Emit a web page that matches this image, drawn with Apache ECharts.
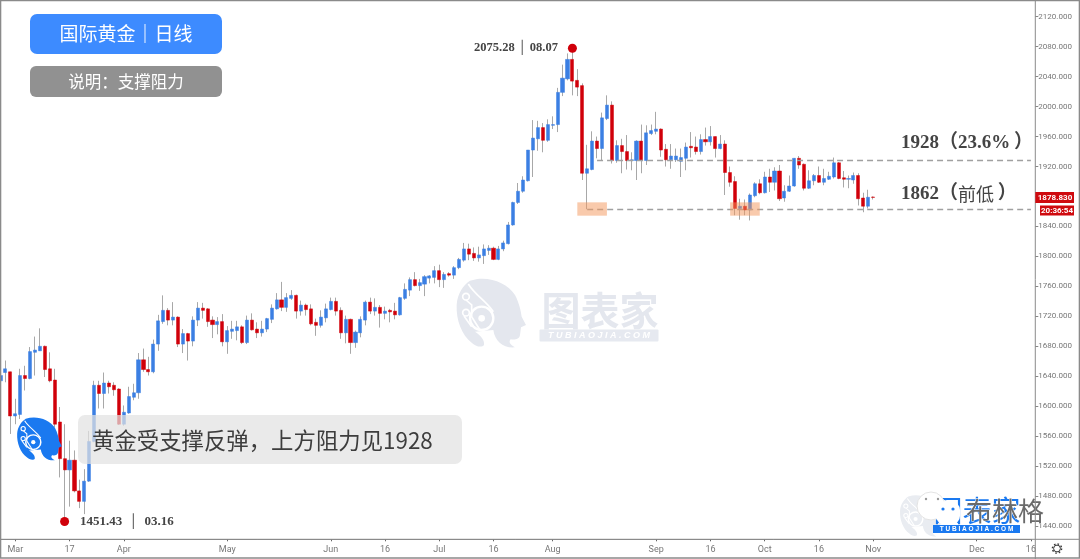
<!DOCTYPE html>
<html><head><meta charset="utf-8">
<style>html,body{margin:0;padding:0;background:#fff}#c{width:1080px;height:559px}</style>
<script src="https://cdn.jsdelivr.net/npm/echarts@6/dist/echarts.min.js"></script>
</head><body><div id="c"></div>
<script>
const opens=[1634,1645,1646,1587,1589,1641,1637,1672,1674,1680,
1650,1635,1579,1530,1515,1528,1487,1473,1500,1553,
1628,1617,1631,1628,1623,1576,1591,1612,1618,1662,
1649,1646,1683,1713,1728,1715,1719,1683,1697,1687,
1715,1731,1730,1715,1709,1713,1686,1700,1701,1706,
1685,1715,1703,1698,1703,1716,1730,1742,1732,1744,
1748,1727,1735,1730,1712,1708,1718,1729,1740,1728,
1698,1716,1685,1698,1715,1739,1727,1732,1724,1728,
1727,1722,1744,1755,1769,1761,1763,1771,1772,1781,
1769,1777,1775,1785,1795,1810,1804,1798,1801,1808,
1811,1796,1810,1817,1842,1872,1887,1901,1942,1957,
1972,1955,1975,1976,2019,2037,2063,2035,2028,1911,
1916,1954,1944,1984,2002,1928,1948,1940,1928,1928,
1954,1928,1964,1967,1970,1943,1929,1929,1927,1931,
1947,1946,1940,1956,1953,1960,1944,1950,1912,1900,
1864,1867,1862,1881,1897,1885,1906,1899,1914,1878,
1887,1894,1931,1923,1891,1901,1908,1899,1903,1906,
1925,1905,1903,1902,1908,1878,1867,1879.3];
const closes=[1641,1650,1587,1590,1641,1637,1673,1675,1680,1649,
1634,1576,1530,1515,1528,1487,1473,1500,1553,1628,
1617,1631,1626,1622,1576,1592,1613,1618,1662,1649,
1646,1683,1714,1728,1715,1719,1683,1697,1687,1715,
1731,1728,1713,1709,1713,1686,1701,1703,1706,1685,
1715,1702,1698,1703,1717,1731,1742,1732,1745,1748,
1727,1735,1729,1710,1708,1719,1730,1740,1727,1698,
1716,1685,1699,1716,1739,1727,1732,1724,1727,1726,
1722,1745,1756,1769,1761,1765,1773,1774,1781,1769,
1776,1775,1785,1796,1810,1803,1798,1802,1810,1811,
1796,1810,1818,1842,1872,1887,1902,1942,1958,1972,
1955,1976,1976,2019,2038,2063,2034,2026,1911,1917,
1954,1944,1985,2002,1928,1948,1940,1928,1929,1954,
1928,1965,1968,1970,1942,1929,1934,1934,1932,1946,
1945,1940,1956,1953,1960,1944,1950,1912,1899,1864,
1867,1862,1882,1897,1885,1906,1899,1914,1877,1887,
1894,1931,1922,1891,1901,1908,1899,1904,1907,1925,
1904,1903,1904,1908,1877,1867,1879,1878.83];
const lows=[1632,1632,1563,1576,1583,1621,1636,1641,1674,1639,
1632,1572,1505,1451.43,1466,1485,1464,1456,1499,1552,
1597,1597,1617,1614,1575,1574,1590,1608,1610,1646,
1641,1644,1674,1710,1708,1708,1679,1671,1661,1680,
1707,1717,1706,1691,1696,1680,1670,1690,1688,1683,
1683,1701,1691,1693,1699,1711,1729,1727,1726,1742,
1717,1721,1721,1708,1694,1705,1712,1728,1721,1690,
1684,1670,1678,1692,1708,1723,1721,1705,1716,1712,
1716,1721,1742,1747,1760,1754,1747,1764,1764,1759,
1758,1773,1770,1783,1793,1795,1794,1793,1790,1802,
1795,1795,1807,1816,1841,1870,1885,1900,1906,1941,
1939,1953,1970,1966,2014,2035,2015,2014,1902,1863,
1915,1931,1928,1982,1924,1925,1911,1916,1915,1902,
1911,1922,1962,1963,1933,1920,1917,1926,1906,1915,
1932,1936,1936,1948,1948,1932,1943,1882,1893,1855,
1849,1855,1848,1879,1883,1884,1886,1888,1874,1873,
1886,1893,1917,1888,1890,1895,1898,1895,1902,1904,
1903,1892,1891,1897,1868,1859,1864,1876];
const highs=[1645,1661,1646,1610,1650,1654,1679,1693,1704,1681,
1672,1650,1599,1576,1554,1541,1502,1516,1567,1634,
1634,1645,1634,1632,1624,1601,1626,1630,1671,1677,
1666,1689,1722,1748,1731,1739,1720,1703,1698,1720,
1739,1738,1731,1720,1719,1723,1707,1714,1714,1708,
1721,1724,1712,1714,1718,1736,1751,1766,1751,1755,
1749,1741,1737,1736,1717,1728,1737,1745,1745,1732,
1721,1717,1701,1720,1741,1745,1744,1735,1733,1730,
1738,1746,1764,1772,1779,1770,1775,1775,1787,1789,
1779,1779,1787,1798,1818,1817,1812,1813,1816,1815,
1813,1814,1821,1846,1873,1898,1907,1942,1982,1981,
1978,1983,1987,2025,2056,2071,2075.28,2050,2031,1949,
1967,1960,1992,2015,2007,1955,1957,1962,1939,1955,
1976,1975,1976,1993,1971,1950,1950,1944,1944,1952,
1966,1960,1963,1972,1974,1960,1962,1955,1920,1907,
1877,1876,1884,1899,1903,1913,1917,1919,1922,1895,
1908,1931,1934,1924,1915,1910,1920,1917,1913,1932,
1926,1914,1908,1912,1911,1885,1889,1880];
const tickDates=['2020-03-02','2020-03-17','2020-04-01','2020-05-01','2020-06-01','2020-06-16','2020-07-01','2020-07-16','2020-08-03','2020-09-01','2020-09-16','2020-10-01','2020-10-16','2020-11-02','2020-12-01','2020-12-16'];
const tickLabels=['Mar','17','Apr','May','Jun','16','Jul','16','Aug','Sep','16','Oct','16','Nov','Dec','16'];
const resistance=1928, support=1863;
const peakDate='2020-08-07', peakValue=2075.28, troughDate='2020-03-16', troughValue=1451.43;
const priceTicks={min:1440,max:2120,step:40};

// trading calendar: weekdays from 26 Feb 2020, Good Friday closed
const categories=[];
for(let d=Date.UTC(2020,1,26);categories.length<210;d+=864e5){
  const dt=new Date(d),s=dt.toISOString().slice(0,10),w=dt.getUTCDay();
  if(w!==0&&w!==6&&s!=='2020-04-10')categories.push(s);
}
const idx=s=>categories.indexOf(s);
const isTick=i=>tickDates.includes(categories[i]);

const wicks=opens.map((o,i)=>[o,closes[i],lows[i],highs[i]]);
const bodies=opens.map((o,i)=>[o,closes[i],Math.min(o,closes[i]),Math.max(o,closes[i])]);

const SERIF='"Liberation Serif","Noto Sans CJK SC",serif', CJK='"Noto Sans CJK SC",sans-serif';
echarts.graphic.registerShape('logoHead',echarts.graphic.extendPath('M50,105 C52,70 70,45 90,32 C140,15 200,35 225,75 C238,100 243,125 245,140 L258,165 L243,172 L240,195 C238,208 225,210 212,208 C205,215 210,225 225,232 C190,235 165,215 160,180 L105,185 C120,195 135,210 132,225 C125,235 105,228 95,218 C65,195 48,150 50,105 Z',{}));
echarts.graphic.registerShape('logoTrace',echarts.graphic.extendPath('M85,42 C105,75 135,90 160,125 M78,90 L95,105 L95,140 L120,180 M72,138 L95,170',{}));
function head(x,y,sx,sy,color,z,line){
  return {type:'group',x:x,y:y,scaleX:sx,scaleY:sy,z:z,children:[
    {type:'logoHead',shape:{},style:{fill:color},z:z},
    {type:'circle',shape:{cx:125,cy:145,r:35},style:{fill:color,stroke:line,lineWidth:7},z:z},
    {type:'circle',shape:{cx:125,cy:145,r:10},style:{fill:line},z:z},
    {type:'logoTrace',shape:{},style:{fill:'none',stroke:line,lineWidth:5},z:z},
    {type:'circle',shape:{cx:78,cy:80,r:10},style:{fill:color,stroke:line,lineWidth:5},z:z},
    {type:'circle',shape:{cx:78,cy:128,r:10},style:{fill:color,stroke:line,lineWidth:5},z:z}
  ]};
}
const levelRich={a:{font:'bold 19px '+SERIF,fill:'#444'},b:{font:'18px '+CJK,fill:'#444'}};
const graphics=[
  // frame and axis rules
  {type:'line',shape:{x1:0,y1:539.3,x2:1080,y2:539.3},style:{stroke:'#8a8a8a',lineWidth:1},z:20},
  {type:'line',shape:{x1:1035.3,y1:0,x2:1035.3,y2:559},style:{stroke:'#8a8a8a',lineWidth:1},z:20},
  {type:'rect',shape:{x:.5,y:.5,width:1079,height:557.5},style:{fill:'none',stroke:'#8a8a8a',lineWidth:1.6},z:20},
  // centre watermark
  head(440,270,1/3,1/3,'#e4e7ee',0,'#fff'),
  {type:'text',x:600,y:310,style:{text:'图表家',fill:'#e4e7ee',font:'bold 39px '+CJK,textAlign:'center',textVerticalAlign:'middle'},z:0},
  {type:'rect',shape:{x:539.5,y:329.5,width:119,height:12,r:1},style:{fill:'#e6e9f0'},z:0},
  {type:'text',x:599,y:335.7,style:{text:'T U B I A O J I A . C O M',fill:'#fff',font:'italic bold 9px "Liberation Sans",sans-serif',textAlign:'center',textVerticalAlign:'middle'},z:0},
  // header boxes
  {type:'rect',shape:{x:30,y:14,width:192,height:40,r:7},style:{fill:'#3d8bff'},z:30},
  {type:'text',x:126,y:34,style:{text:'国际黄金｜日线',fill:'#fff',font:'19px '+CJK,textAlign:'center',textVerticalAlign:'middle'},z:31},
  {type:'rect',shape:{x:30,y:66,width:192,height:31,r:6},style:{fill:'#919191'},z:30},
  {type:'text',x:126,y:82,style:{text:'说明：支撑阻力',fill:'#fff',font:'16.5px '+CJK,textAlign:'center',textVerticalAlign:'middle'},z:31},
  // comment banner
  {type:'rect',shape:{x:78,y:415,width:384,height:49,r:7},style:{fill:'rgba(226,226,226,0.72)'},z:30},
  {type:'text',x:92,y:440,style:{text:'黄金受支撑反弹，上方阻力见1928',fill:'#3d3d3d',font:'22.4px '+CJK,textVerticalAlign:'middle'},z:31},
  head(6.4,412,.215,.208,'#1a79f0',32,'#fff'),
  // level annotations
  {type:'text',x:901,y:143,style:{text:'{a|1928（23.6%\u2009）}',rich:levelRich,fill:'#444',textVerticalAlign:'middle'},z:31},
  {type:'text',x:901,y:194,style:{text:'{a|1862（}{b|前低}{a|\u2009）}',rich:levelRich,fill:'#444',textVerticalAlign:'middle'},z:31},
  // price tags
  {type:'rect',shape:{x:1035.3,y:192,width:38.7,height:11},style:{fill:'#cf0a0f'},z:30},
  {type:'text',x:1055,y:197.7,style:{text:'1878.830',fill:'#fff',font:'bold 8px Roboto,sans-serif',textAlign:'center',textVerticalAlign:'middle'},z:31},
  {type:'rect',shape:{x:1040,y:205.5,width:34,height:10},style:{fill:'#cf0a0f'},z:30},
  {type:'text',x:1057,y:210.7,style:{text:'20:36:54',fill:'#fff',font:'bold 8px Roboto,sans-serif',textAlign:'center',textVerticalAlign:'middle'},z:31},
  // gear
  {type:'circle',shape:{cx:1057,cy:548.5,r:3.4},style:{fill:'none',stroke:'#333',lineWidth:1},z:31},
  {type:'circle',shape:{cx:1057,cy:548.5,r:4.6},style:{fill:'none',stroke:'#333',lineWidth:1.4,lineDash:[1.6,2]},z:31},
  // lower right watermark
  head(889.7,490,.207,.2,'#e9ecf1',5,'#fff'),
  {type:'text',x:977,y:511,style:{text:'图表家',fill:'#1a79f0',font:'29px '+CJK,textAlign:'center',textVerticalAlign:'middle'},z:6},
  {type:'rect',shape:{x:933,y:525,width:87,height:8},style:{fill:'#1a79f0'},z:6},
  {type:'text',x:976.5,y:529.2,style:{text:'T U B I A O J I A . C O M',fill:'#fff',font:'bold 6.5px "Liberation Sans",sans-serif',textAlign:'center',textVerticalAlign:'middle'},z:7},
  {type:'circle',shape:{cx:931,cy:506,r:14},style:{fill:'#fff',stroke:'#e3e3e3',lineWidth:1},z:8},
  {type:'circle',shape:{cx:926,cy:499,r:1.2},style:{fill:'#999'},z:9},
  {type:'circle',shape:{cx:938,cy:499,r:1.2},style:{fill:'#999'},z:9},
  {type:'rect',shape:{x:936,y:501,width:24,height:24,r:9},style:{fill:'#fff'},z:9},
  {type:'circle',shape:{cx:943,cy:509,r:1.6},style:{fill:'#1a79f0'},z:10},
  {type:'circle',shape:{cx:953,cy:509,r:1.6},style:{fill:'#1a79f0'},z:10},
  {type:'text',x:1005,y:511,style:{text:'布林格',fill:'#6a6a6a',font:'26px '+CJK,stroke:'#fff',lineWidth:.8,textAlign:'center',textVerticalAlign:'middle'},z:10}
];

const chart=echarts.init(document.getElementById('c'),null,{renderer:'canvas'});
chart.setOption({
  animation:false,
  grid:{left:.5,width:1030.4,top:16.7,height:509.4,containLabel:false},
  xAxis:{type:'category',data:categories,boundaryGap:false,offset:13.2,
    axisLine:{show:true,lineStyle:{color:'#8a8a8a'}},
    axisTick:{show:true,length:2,interval:i=>isTick(i),lineStyle:{color:'#666'}},
    axisLabel:{interval:i=>isTick(i),margin:6,color:'#777',fontSize:9,fontFamily:'Roboto,sans-serif',
      formatter:v=>{const k=tickDates.indexOf(v);return k<0?'':tickLabels[k];}},
    splitLine:{show:false}},
  yAxis:{type:'value',position:'right',offset:4.4,scale:false,min:priceTicks.min,max:priceTicks.max,interval:priceTicks.step,
    axisLine:{show:false},axisTick:{show:true,length:3,lineStyle:{color:'#888'}},
    axisLabel:{margin:3,color:'#777',fontSize:8,fontFamily:'Roboto,sans-serif',formatter:v=>v.toFixed(3)},
    splitLine:{show:false}},
  series:[
    {type:'candlestick',name:'wick',barWidth:1,data:wicks,z:2,
      itemStyle:{color:'#a8a8a8',color0:'#a8a8a8',borderColor:'#a8a8a8',borderColor0:'#a8a8a8',borderWidth:1}},
    {type:'candlestick',name:'body',barWidth:3.6,data:bodies,z:3,
      itemStyle:{color:'#3b7fe3',color0:'#d0000a',borderColor:'#3b7fe3',borderColor0:'#d0000a',borderWidth:.5},
      markLine:{silent:true,symbol:'none',z:4,label:{show:false},
        lineStyle:{color:'#a0a0a0',type:[6,4],width:1.4},
        data:[[{coord:[121,resistance]},{coord:[209,resistance]}],
              [{coord:[119,support]},{coord:[209,support]}]]},
      markArea:{silent:true,z:5,itemStyle:{color:'rgba(243,150,90,0.5)'},
        data:[[{coord:[117,1872.2]},{coord:[123,1854.4]}],
              [{coord:[148,1872.2]},{coord:[154,1854.4]}]]},
      markPoint:{silent:true,z:6,symbol:'circle',symbolSize:9,itemStyle:{color:'#d0000a'},
        data:[
          {coord:[idx(peakDate),peakValue],symbolOffset:[0,-2],
           label:{show:true,position:'left',distance:10,color:'#444',fontFamily:SERIF,fontWeight:'bold',fontSize:12.5,formatter:'2075.28 │ 08.07'}},
          {coord:[idx(troughDate),troughValue],symbolOffset:[0,4],
           label:{show:true,position:'right',distance:11,color:'#444',fontFamily:SERIF,fontWeight:'bold',fontSize:13,formatter:'1451.43  │  03.16'}}
        ]}}
  ],
  graphic:graphics
});
</script></body></html>
